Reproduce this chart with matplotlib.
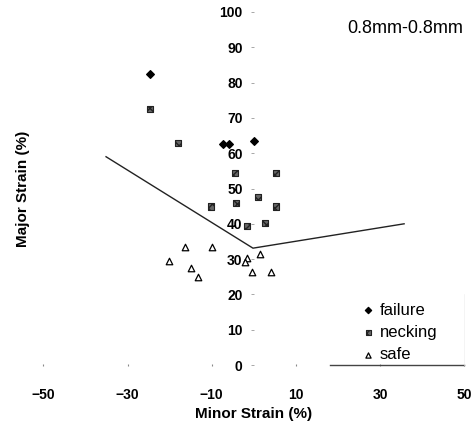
import matplotlib
matplotlib.use("Agg")
import matplotlib.pyplot as plt
from matplotlib.lines import Line2D

plt.rcParams['font.family'] = ['Liberation Sans', 'DejaVu Sans']

# Data (minor strain %, major strain %)
failure_x = [-24.6, -7.3, -5.9, 0.1]
failure_y = [82.4, 62.7, 62.7, 63.4]

necking_x = [-24.6, -18.0, -4.4, 5.2, -10.2, -4.3, 1.0, 5.3, -1.7, 2.6]
necking_y = [72.6, 63.0, 54.3, 54.5, 44.9, 46.0, 47.6, 44.9, 39.4, 40.2]

safe_x = [-16.4, -10.0, -20.2, -15.0, -13.2, -1.6, -2.0, 1.4, -0.4, 4.0]
safe_y = [33.3, 33.5, 29.5, 27.4, 25.0, 30.4, 29.3, 31.5, 26.3, 26.3]

flc_x = [-35.1, -0.2, 35.7]
flc_y = [59.0, 33.1, 40.0]

xticks = [-50, -30, -10, 10, 30, 50]
yticks = [0, 10, 20, 30, 40, 50, 60, 70, 80, 90, 100]

fig = plt.figure(figsize=(4.77, 4.21), dpi=100)
ax = fig.add_axes([0.0908, 0.133, 0.8826, 0.8385])

ax.plot(flc_x, flc_y, color='#222222', lw=1.0, zorder=2)
ax.scatter(failure_x, failure_y, marker='D', s=15, color='black', zorder=3, label='failure')
ax.scatter(necking_x, necking_y, marker='s', s=20, facecolor='#666666', edgecolor='#222222',
           linewidths=0.8, hatch='xxxx', zorder=3, label='necking')
ax.scatter(safe_x, safe_y, marker='^', s=22, facecolor='white', edgecolor='black',
           linewidths=0.9, zorder=3, label='safe')

ax.set_xlim(-50, 50)
ax.set_ylim(0, 100)

for s in ['top', 'right', 'bottom']:
    ax.spines[s].set_visible(False)
ax.spines['left'].set_position(('data', 0))
ax.spines['left'].set_visible(False)

ax.set_xticks(xticks)
ax.set_yticks(yticks)
ax.tick_params(axis='x', length=1.5, width=0.8, color='#888888', direction='inout',
               pad=16, labelsize=10)
ax.tick_params(axis='y', length=2, width=0.6, color='#999999', pad=6, labelsize=10)
for lbl in ax.get_xticklabels() + ax.get_yticklabels():
    lbl.set_fontweight('bold')

ax.set_xlabel('Minor Strain (%)', fontsize=11, fontweight='bold')
ax.set_ylabel('Major Strain (%)', fontsize=11, fontweight='bold')
ax.xaxis.set_label_coords(0.5, -0.12)
ax.yaxis.set_label_coords(-0.032, 0.5)

ax.text(0.997, 0.952, '0.8mm-0.8mm', transform=ax.transAxes, ha='right', va='center',
        fontsize=13)

leg = ax.legend(loc='upper left', bbox_to_anchor=(0.756, 0.177), fontsize=12,
                frameon=False, handletextpad=0.3, borderpad=0, borderaxespad=0,
                labelspacing=0.44, handlelength=0.8, markerscale=0.8)
# legend box edges (only bottom and faint right visible)
ax.add_line(Line2D([0.681, 1.0], [0.0, 0.0], transform=ax.transAxes, color='#444444',
                   lw=1.0, clip_on=False))
ax.add_line(Line2D([1.0, 1.0], [0.0, 0.2], transform=ax.transAxes, color='#f0f0f0',
                   lw=0.5, clip_on=False))

fig.savefig('out.png', dpi=100)
